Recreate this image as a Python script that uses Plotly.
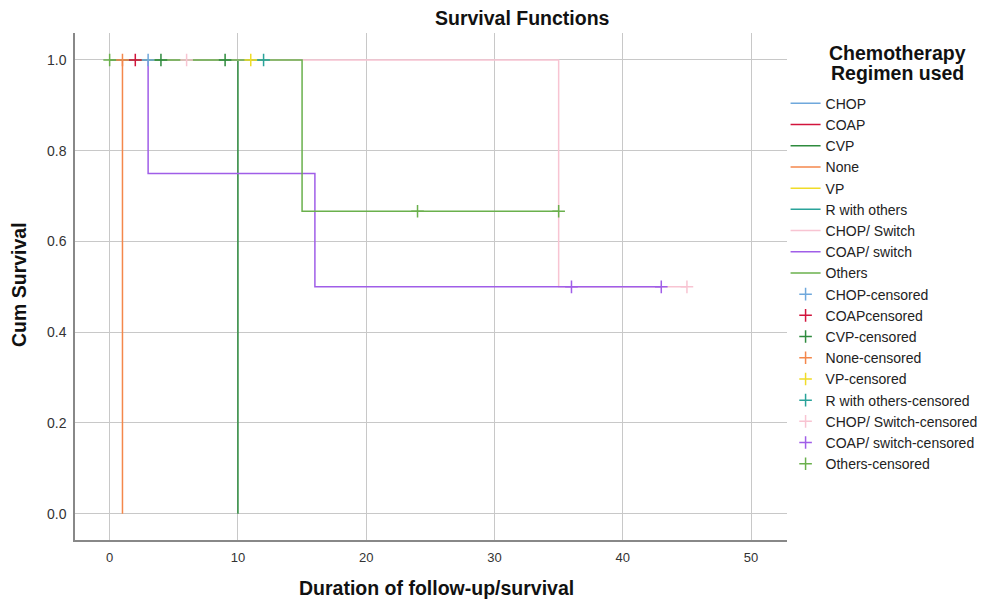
import plotly.graph_objects as go

groups = ["CHOP", "COAP", "CVP", "None", "VP", "R with others",
          "CHOP/ Switch", "COAP/ switch", "Others"]
censored_names = ["CHOP-censored", "COAPcensored", "CVP-censored", "None-censored",
                  "VP-censored", "R with others-censored", "CHOP/ Switch-censored",
                  "COAP/ switch-censored", "Others-censored"]
colors = ["#6fa8dc", "#d2143c", "#2e8b3e", "#f4874b", "#f0dc28",
          "#2aa39a", "#f8c4d2", "#a05ee8", "#6ab04c"]

# step function (time, survival) per group
step_time = [
    [0, 3],
    [0, 2],
    [0, 10],
    [0, 1],
    [0, 11],
    [0, 12],
    [0, 35, 45],
    [0, 3, 16, 43],
    [0, 15, 35],
]
step_surv = [
    [1.0, 1.0],
    [1.0, 1.0],
    [1.0, 0.0],
    [1.0, 0.0],
    [1.0, 1.0],
    [1.0, 1.0],
    [1.0, 0.5, 0.5],
    [1.0, 0.75, 0.5, 0.5],
    [1.0, 0.6667, 0.6667],
]
# censored observations
cens_time = [
    [3],
    [2],
    [4, 9],
    [1],
    [11],
    [12],
    [6, 45],
    [36, 43],
    [0, 24, 35],
]
cens_surv = [
    [1.0],
    [1.0],
    [1.0, 1.0],
    [1.0],
    [1.0],
    [1.0],
    [1.0, 0.5],
    [0.5, 0.5],
    [1.0, 0.6667, 0.6667],
]

x_ticks = [0, 10, 20, 30, 40, 50]
y_ticks = [0.0, 0.2, 0.4, 0.6, 0.8, 1.0]

fig = go.Figure()
for i, g in enumerate(groups):
    fig.add_trace(go.Scatter(
        x=step_time[i], y=step_surv[i], mode="lines", name=g,
        line=dict(color=colors[i], width=1.5, shape="hv"),
    ))
for i, g in enumerate(censored_names):
    fig.add_trace(go.Scatter(
        x=cens_time[i], y=cens_surv[i], mode="markers", name=g,
        marker=dict(symbol="cross-thin", size=9, color=colors[i],
                    line=dict(color=colors[i], width=1.5)),
    ))

PT, PB, PL, PR = 33, 540, 75, 787
ph, pw = PB - PT, PR - PL


def px_x(x):
    return (x - PL) / pw


def px_y(y):
    return (PB - y) / ph


title_font = dict(family="Liberation Sans, Arial, sans-serif", size=19.5, color="#111111")
annotations = [
    dict(text="<b>Survival Functions</b>", x=px_x(522), y=px_y(18)),
    dict(text="<b>Chemotherapy</b>", x=px_x(897), y=px_y(53)),
    dict(text="<b>Regimen used</b>", x=px_x(897), y=px_y(73)),
    dict(text="<b>Duration of follow-up/survival</b>", x=px_x(436), y=px_y(588)),
    dict(text="<b>Cum Survival</b>", x=px_x(19), y=px_y(285), textangle=-90),
]
for a in annotations:
    a.update(xref="paper", yref="paper", xanchor="center", yanchor="middle",
             showarrow=False, font=title_font)

fig.update_layout(
    width=1005, height=603,
    paper_bgcolor="white", plot_bgcolor="white",
    margin=dict(l=PL, r=1005 - PR, t=PT, b=603 - PB, autoexpand=False),
    font=dict(family="Liberation Sans, Arial, sans-serif", color="#222222"),
    showlegend=True,
    legend=dict(
        x=0.998, xanchor="left", y=0.892, yanchor="top",
        font=dict(size=14, color="#222222"),
        tracegroupgap=0, itemwidth=30,
        bgcolor="rgba(0,0,0,0)",
    ),
    annotations=annotations,
    xaxis=dict(
        range=[-2.7, 52.8], tickvals=x_ticks,
        ticktext=[str(v) for v in x_ticks],
        showgrid=True, gridcolor="#c8c8c8", gridwidth=1.2,
        zeroline=False, showline=True, linecolor="#888888", linewidth=1.5,
        ticks="", tickfont=dict(size=13, color="#333333"), automargin=False,
        ticklabelstandoff=5,
    ),
    yaxis=dict(
        range=[-0.058, 1.0595], tickvals=y_ticks,
        ticktext=["%.1f" % v for v in y_ticks],
        showgrid=True, gridcolor="#c8c8c8", gridwidth=1.2,
        zeroline=False, showline=True, linecolor="#888888", linewidth=1.5,
        ticks="", tickfont=dict(size=14, color="#333333"), automargin=False,
        ticklabelstandoff=4,
    ),
)

fig.write_html("out.html")
